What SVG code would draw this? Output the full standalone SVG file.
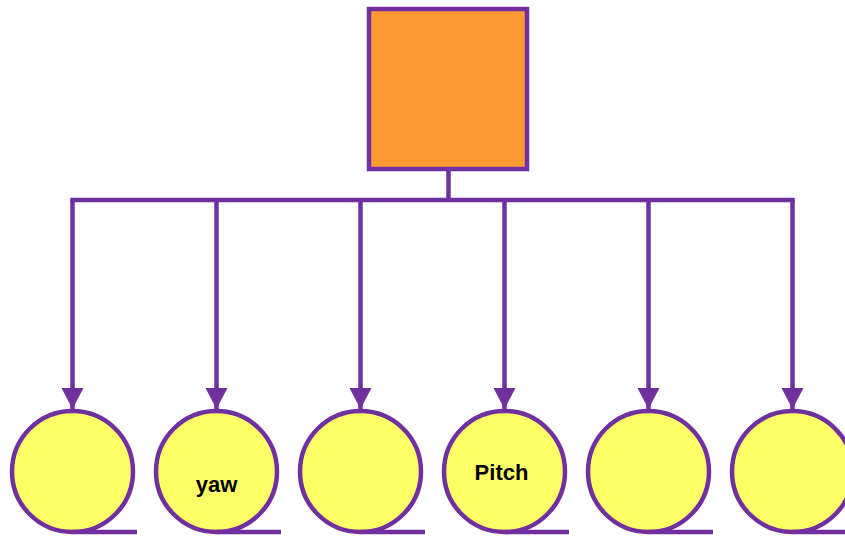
<svg xmlns="http://www.w3.org/2000/svg" width="845" height="536" viewBox="0 0 845 536">
  <style>
    .line { fill: none; stroke: #7030A0; stroke-width: 4.5; }
    .box { fill: #FF9933; stroke: #7030A0; stroke-width: 4.5; }
    .tape { fill: #FFFF66; stroke: #7030A0; stroke-width: 4.5; }
    .label { font-family: "Liberation Sans", Arial, sans-serif; font-weight: bold; font-size: 22px; fill: #000; text-anchor: middle; }
  </style>
  <defs>
    <marker id="arrow" markerUnits="userSpaceOnUse" markerWidth="22" markerHeight="22" refX="21" refY="11" orient="auto">
      <path d="M0,0 L21,11 L0,22 Z" fill="#7030A0"/>
    </marker>
    <!-- sequential-storage symbol: circle with tangent tail at the bottom -->
    <g id="tapeShape">
      <circle class="tape" cx="0" cy="0" r="60.5"/>
      <line class="line" x1="0" y1="60.5" x2="64.5" y2="60.5"/>
    </g>
  </defs>

  <g id="connectors">
    <line class="line" x1="448.5" y1="168" x2="448.5" y2="200"/>
    <line class="line" x1="70.25" y1="200" x2="794.75" y2="200"/>
    <line class="line" x1="72.5" y1="200" x2="72.5" y2="409" marker-end="url(#arrow)"/>
    <line class="line" x1="216.5" y1="200" x2="216.5" y2="409" marker-end="url(#arrow)"/>
    <line class="line" x1="360.5" y1="200" x2="360.5" y2="409" marker-end="url(#arrow)"/>
    <line class="line" x1="504.5" y1="200" x2="504.5" y2="409" marker-end="url(#arrow)"/>
    <line class="line" x1="648.5" y1="200" x2="648.5" y2="409" marker-end="url(#arrow)"/>
    <line class="line" x1="792.5" y1="200" x2="792.5" y2="409" marker-end="url(#arrow)"/>
  </g>

  <g id="root">
    <rect class="box" x="369" y="9" width="158" height="160"/>
  </g>

  <g id="tape1">
    <use href="#tapeShape" x="72.5" y="471.5"/>
  </g>
  <g id="tape2">
    <use href="#tapeShape" x="216.5" y="471.5"/>
    <text class="label" x="216.5" y="492">yaw</text>
  </g>
  <g id="tape3">
    <use href="#tapeShape" x="360.5" y="471.5"/>
  </g>
  <g id="tape4">
    <use href="#tapeShape" x="504.5" y="471.5"/>
    <text class="label" x="501.5" y="480">Pitch</text>
  </g>
  <g id="tape5">
    <use href="#tapeShape" x="648.5" y="471.5"/>
  </g>
  <g id="tape6">
    <use href="#tapeShape" x="792.5" y="471.5"/>
  </g>
</svg>
